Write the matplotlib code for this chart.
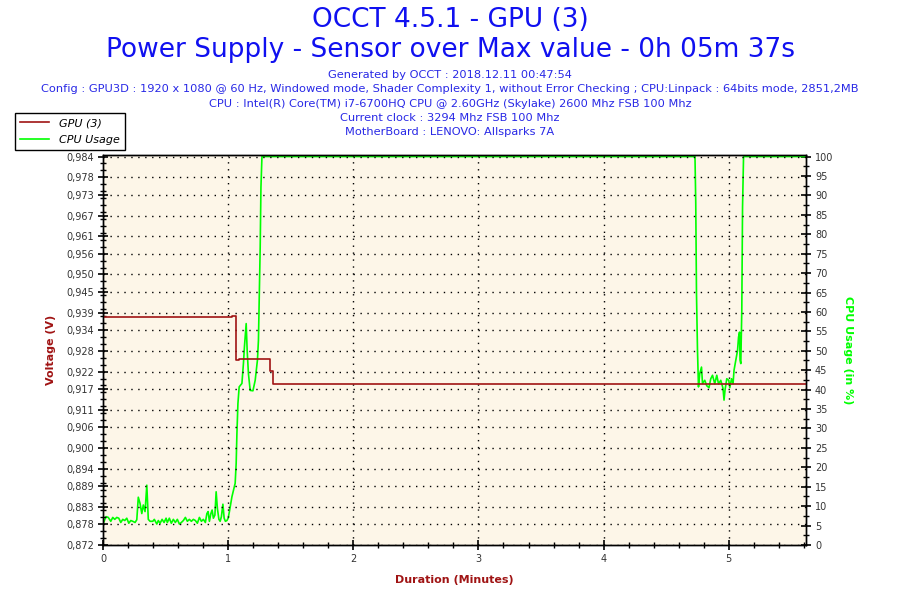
import matplotlib
matplotlib.use("Agg")
import matplotlib.pyplot as plt
import numpy as np
from matplotlib.ticker import FixedLocator, MultipleLocator, AutoMinorLocator, FuncFormatter

# ---- data ----
duration_min = 5.617   # 0h 05m 37s

volt_time = [0.0, 1.030, 1.064, 1.088, 1.338, 1.357, duration_min]
volt_value = [0.9376, 0.9379, 0.9252, 0.9255, 0.9222, 0.9183, 0.9183]

cpu_time = [0.002, 0.024, 0.042, 0.062, 0.078, 0.094, 0.110, 0.126, 0.142, 0.158,
            0.174, 0.190, 0.206, 0.222, 0.238, 0.256, 0.270, 0.282, 0.296, 0.310,
            0.322, 0.336, 0.350, 0.362, 0.376, 0.398, 0.410, 0.430, 0.442, 0.456,
            0.472, 0.488, 0.504, 0.514, 0.530, 0.546, 0.562, 0.578, 0.594, 0.610,
            0.626, 0.642, 0.658, 0.674, 0.690, 0.706, 0.722, 0.738, 0.754, 0.770,
            0.786, 0.802, 0.818, 0.830, 0.840, 0.850, 0.862, 0.872, 0.882, 0.894,
            0.904, 0.914, 0.926, 0.936, 0.946, 0.958, 0.968, 0.978, 0.990, 1.000,
            1.010, 1.030, 1.056, 1.064, 1.070, 1.078, 1.088, 1.110, 1.122, 1.130,
            1.144, 1.152, 1.162, 1.176, 1.198, 1.216, 1.234, 1.242, 1.248, 1.256,
            1.262, 1.270, 4.730, 4.736, 4.742, 4.750, 4.758, 4.768, 4.782, 4.790,
            4.808, 4.824, 4.842, 4.856, 4.870, 4.888, 4.904, 4.918, 4.936, 4.954,
            4.962, 4.970, 4.984, 5.000, 5.008, 5.022, 5.034, 5.042, 5.056, 5.070,
            5.078, 5.086, 5.090, 5.096, 5.104, 5.110, 5.118, duration_min]
cpu_value = [5.6, 7.3, 7.1, 6.1, 7.1, 6.6, 7.1, 6.9, 5.8, 6.6,
             6.3, 6.9, 5.6, 6.3, 6.1, 5.8, 6.5, 12.3, 10.7, 8.1,
             10.3, 8.6, 15.4, 6.6, 6.1, 6.1, 6.6, 5.4, 6.3, 5.6,
             6.6, 5.8, 6.9, 5.8, 6.9, 5.6, 6.6, 5.8, 6.6, 5.4,
             5.8, 6.3, 7.1, 6.1, 6.6, 6.1, 6.6, 6.3, 5.6, 7.1,
             6.1, 6.6, 5.8, 8.1, 8.6, 6.1, 8.1, 9.0, 6.9, 7.7,
             13.7, 9.4, 6.6, 6.1, 7.3, 10.5, 6.9, 6.1, 6.3, 6.9,
             8.6, 12.4, 15.9, 21.0, 28.7, 36.4, 40.7, 41.6, 46.7, 51.0,
             57.0, 50.0, 44.1, 39.8, 39.7, 42.4, 47.6, 52.7, 63.0, 76.7,
             92.1, 100.0, 100.0, 88.3, 64.7, 50.1, 40.7, 44.1, 45.8, 41.6,
             42.4, 41.0, 40.5, 42.8, 43.7, 41.5, 43.7, 41.5, 42.4, 40.3,
             37.3, 39.9, 42.8, 42.4, 40.5, 42.8, 41.5, 45.0, 47.6, 50.1,
             53.5, 54.8, 47.6, 46.7, 60.4, 87.0, 100.0, 100.0]

volt_ticks = [0.872, 0.878, 0.883, 0.889, 0.894, 0.900, 0.906, 0.911, 0.917, 0.922, 0.928,
              0.934, 0.939, 0.945, 0.950, 0.956, 0.961, 0.967, 0.973, 0.978, 0.984]

title_lines = ["OCCT 4.5.1 - GPU (3)",
               "Power Supply - Sensor over Max value - 0h 05m 37s"]
info_lines = ["Generated by OCCT : 2018.12.11 00:47:54",
              "Config : GPU3D : 1920 x 1080 @ 60 Hz, Windowed mode, Shader Complexity 1, "
              "without Error Checking ; CPU:Linpack : 64bits mode, 2851,2MB",
              "CPU : Intel(R) Core(TM) i7-6700HQ CPU @ 2.60GHz (Skylake) 2600 Mhz FSB 100 Mhz",
              "Current clock : 3294 Mhz FSB 100 Mhz",
              "MotherBoard : LENOVO: Allsparks 7A"]

# ---- style ----
plt.rcParams['font.family'] = ['DejaVu Sans']
red = "#A01414"
green = "#00FF00"
cream = "#FDF6E8"
blue = "#1010F0"
tick_col = "#333333"

fig = plt.figure(figsize=(9, 6), dpi=100)
ax = fig.add_axes([103 / 900, 55 / 600, 703 / 900, 390 / 600])
ax2 = ax.twinx()

# voltage axis on top so its line lies over the cpu line
ax.set_zorder(ax2.get_zorder() + 1)
ax.patch.set_visible(False)
ax2.patch.set_visible(True)
ax2.patch.set_facecolor(cream)

ax.step(volt_time, volt_value, where="post", color=red, lw=1.2, label="GPU (3)")
ax2.plot(cpu_time, cpu_value, color=green, lw=1.2, label="CPU Usage")

# a little headroom so the 100 % line shows just below the frame
pad = 0.004
ax.set_xlim(0, duration_min)
ax.set_ylim(volt_ticks[0], volt_ticks[-1] + (volt_ticks[-1] - volt_ticks[0]) * pad)
ax2.set_ylim(0, 100 * (1 + pad))

ax.xaxis.set_major_locator(MultipleLocator(1))
ax.xaxis.set_minor_locator(AutoMinorLocator(5))
ax.yaxis.set_major_locator(FixedLocator(volt_ticks))
ax.yaxis.set_minor_locator(AutoMinorLocator(3))
ax.yaxis.set_major_formatter(FuncFormatter(lambda v, p: f"{v:.3f}".replace(".", ",")))
ax2.yaxis.set_major_locator(FixedLocator(range(0, 101, 5)))
ax2.yaxis.set_minor_locator(AutoMinorLocator(2))

for a in (ax, ax2):
    a.tick_params(which="major", direction="inout", length=7, width=1.2,
                  labelsize=7, labelcolor=tick_col, pad=3)
    a.tick_params(which="minor", direction="inout", length=5, width=1)
    for s in a.spines.values():
        s.set_linewidth(1)

ax.grid(True, which="major", color="black", linestyle=(0, (1, 4)), linewidth=1)

ax.set_ylabel("Voltage (V)", color=red, fontsize=8, fontweight="bold", labelpad=7)
ax2.set_ylabel("CPU Usage (in %)", color=green, fontsize=8, fontweight="bold",
               rotation=270, labelpad=14)
ax.set_xlabel("Duration (Minutes)", color=red, fontsize=8, fontweight="bold", labelpad=8)

# titles
fig.text(0.5, 1 - 20 / 600, title_lines[0], ha="center", va="center", fontsize=19, color=blue)
fig.text(0.5, 1 - 50 / 600, title_lines[1], ha="center", va="center", fontsize=19, color=blue)
for i, line in enumerate(info_lines):
    fig.text(0.5, 1 - (75 + i * 14.3) / 600, line, ha="center", va="center",
             fontsize=8.2, color="#2828E6")

# legend outside the plot, top left
h1, l1 = ax.get_legend_handles_labels()
h2, l2 = ax2.get_legend_handles_labels()
leg = fig.legend(h1 + h2, l1 + l2, loc="upper left", bbox_to_anchor=(15 / 900, 1 - 113 / 600),
                 fancybox=False, framealpha=1, edgecolor="black",
                 borderpad=0.45, labelspacing=0.65, handlelength=2.6, handletextpad=0.9,
                 borderaxespad=0, prop={"style": "italic", "size": 8})
leg.get_frame().set_linewidth(1)

fig.savefig("out.png", dpi=100)
